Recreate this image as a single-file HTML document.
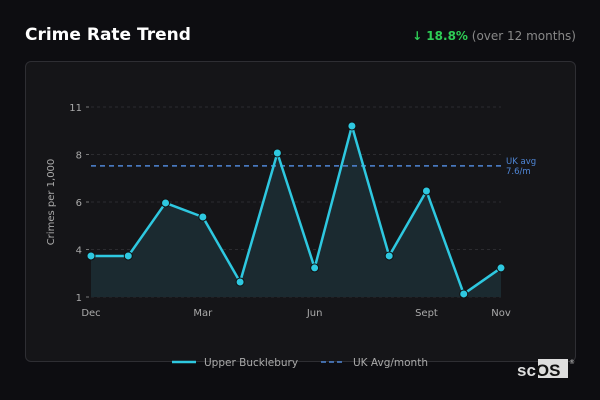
<!DOCTYPE html>
<html><head><meta charset="utf-8"><style>
body{margin:0;width:600px;height:400px;background:#0d0d11;font-family:"DejaVu Sans","Liberation Sans",sans-serif;overflow:hidden;position:relative}
.title{position:absolute;left:25px;top:25px;color:#fff;font-weight:bold;font-size:17px}
.chg{position:absolute;right:24px;top:29px;font-size:12px;color:#888}
.chg b{color:#2ecc55}
.card{position:absolute;left:25px;top:61px;width:549px;height:299px;border:1px solid #2e2e33;border-radius:6px;background:#151518}
svg{position:absolute;left:0;top:0}
</style></head><body>
<div class="title">Crime Rate Trend</div>
<div class="chg"><b>↓ 18.8%</b> (over 12 months)</div>
<div class="card"></div>
<svg width="600" height="400" id="chart"></svg>
<script>
const months=["Dec","Jan","Feb","Mar","Apr","May","Jun","Jul","Aug","Sept","Oct","Nov"];
const values=[3.16,3.16,5.95,5.21,1.79,8.58,2.53,10.0,3.16,6.58,1.16,2.53];
const yTicks=[1,3.5,6,8.5,11];
const yTickLabels=["1","4","6","8","11"];
const xLabelIdx=[0,3,6,9,11];
const ukAvg=[7.9];
const ukAvgLabel="7.6/m";
const NS="http://www.w3.org/2000/svg";
const svg=document.getElementById('chart');
const x0=91,x1=501,yTop=107,yBot=297,vMin=1,vMax=11;
const xs=i=>x0+(x1-x0)*i/(months.length-1);
const ys=v=>yBot-(v-vMin)/(vMax-vMin)*(yBot-yTop);
function mk(t,a){const e=document.createElementNS(NS,t);for(const k in a)e.setAttribute(k,a[k]);svg.appendChild(e);return e;}
yTicks.forEach((t,i)=>{
 const g=mk('line',{x1:x0,x2:x1,y1:ys(t),y2:ys(t),stroke:'#2c2c30','stroke-dasharray':'3,3'});
 
 
 const tk=mk('line',{x1:x0-5,x2:x0-2,y1:ys(t),y2:ys(t),stroke:'#777'});
 
 
 const l=mk('text',{x:x0-9,y:ys(t)+4,'text-anchor':'end',fill:'#aaa','font-size':'10'});
 l.textContent=yTickLabels[i];
 
 
});
xLabelIdx.forEach(i=>{
 const l=mk('text',{x:xs(i),y:316,'text-anchor':'middle',fill:'#aaa','font-size':'10'});
 l.textContent=months[i];
 
 
});
const yt=mk('text',{x:54,y:202,transform:'rotate(-90 54 202)','text-anchor':'middle',fill:'#aaa','font-size':'10'});
yt.textContent='Crimes per 1,000';


let pts=values.map((v,i)=>xs(i)+','+ys(v)).join(' ');
const area=mk('polygon',{points:xs(0)+','+yBot+' '+pts+' '+xs(values.length-1)+','+yBot,fill:'#1b2a30'});


const av=mk('line',{x1:x0,x2:x1,y1:ys(ukAvg[0]),y2:ys(ukAvg[0]),stroke:'#4f86d6','stroke-width':1.5,'stroke-dasharray':'5,4'});


const al=mk('text',{x:506,y:ys(ukAvg[0])-2,fill:'#4f86d6','font-size':'8.5'});
al.innerHTML='<tspan x="506">UK avg</tspan><tspan x="506" dy="10">'+ukAvgLabel+'</tspan>';


const ln=mk('polyline',{points:pts,fill:'none',stroke:'#2ec8e0','stroke-width':2.5,'stroke-linejoin':'round'});


values.forEach((v,i)=>{
 const c=mk('circle',{cx:xs(i),cy:ys(v),r:4,fill:'#2ec8e0',stroke:'#111','stroke-width':1});
 
 
});
const lg1=mk('line',{x1:172,x2:196,y1:362,y2:362,stroke:'#2ec8e0','stroke-width':2.5});


const lt1=mk('text',{x:204,y:366,fill:'#aaa','font-size':'10.5'});lt1.textContent='Upper Bucklebury';


const lg2=mk('line',{x1:321,x2:345,y1:362,y2:362,stroke:'#4f86d6','stroke-width':1.5,'stroke-dasharray':'5,3'});


const lt2=mk('text',{x:353,y:366,fill:'#aaa','font-size':'10.5'});lt2.textContent='UK Avg/month';


const bx=mk('rect',{x:538,y:359,width:30,height:19,fill:'#ddd'});


const lo=mk('text',{x:517,y:376,fill:'#ddd','font-size':'17','font-weight':'bold','font-family':'Liberation Sans'});
lo.innerHTML='sc<tspan fill="#111">OS</tspan>';


const rg=mk('text',{x:569,y:364,fill:'#ccc','font-size':'6'});rg.textContent='®';


</script>
</body></html>
